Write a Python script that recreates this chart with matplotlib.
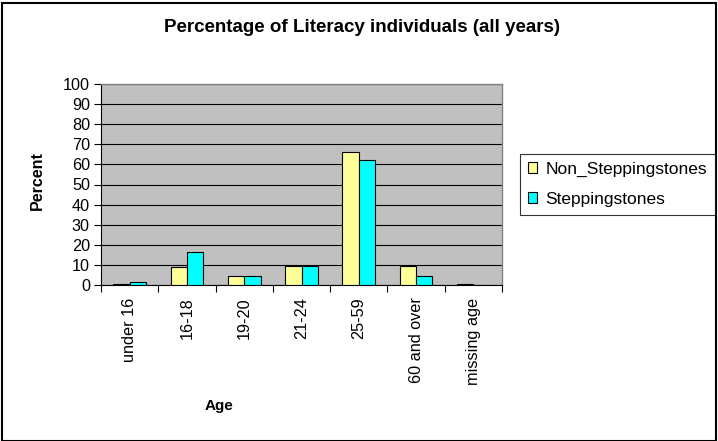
import matplotlib
matplotlib.use("Agg")
import matplotlib.pyplot as plt
import numpy as np
from matplotlib.patches import Rectangle

plt.rcParams["font.family"] = ["Liberation Sans", "DejaVu Sans"]

# Age groups and percentage of literacy individuals per programme
age_groups = ["under 16", "16-18", "19-20", "21-24", "25-59", "60 and over", "missing age"]
non_steppingstones = [0.6, 8.8, 4.6, 9.5, 66.2, 9.4, 0.5]
steppingstones = [1.5, 16.6, 4.6, 9.5, 62.2, 4.6, 0.0]
y_ticks = list(range(0, 101, 10))

W, H = 718, 441
fig = plt.figure(figsize=(W / 100, H / 100), dpi=100)

# plot area in pixel coordinates
left, right, top, bottom = 101, 502, 84, 285
ax = fig.add_axes([left / W, 1 - bottom / H, (right - left) / W, (bottom - top) / H])
ax.set_facecolor("#c0c0c0")

x = np.arange(len(age_groups))
bw = 1 / 3.5
ax.bar(x - bw / 2, non_steppingstones, bw, color="#ffff99", edgecolor="black",
       linewidth=0.8, label="Non_Steppingstones", zorder=3)
ax.bar(x + bw / 2, steppingstones, bw, color="#00ffff", edgecolor="black",
       linewidth=0.8, label="Steppingstones", zorder=3)

ax.set_xlim(-0.5, len(age_groups) - 0.5)
ax.set_ylim(0, 100)
ax.set_yticks(y_ticks)
ax.yaxis.grid(True, color="black", linewidth=0.8, zorder=1)
ax.set_axisbelow(True)

# category labels sit under each group, ticks between groups
ax.set_xticks(x)
ax.set_xticklabels(age_groups, rotation=90, fontsize=11.7)
ax.tick_params(axis="x", length=0, pad=9)
ax.set_xticks(np.arange(len(age_groups) + 1) - 0.5, minor=True)
ax.tick_params(axis="x", which="minor", length=5, direction="out", width=0.8)
ax.tick_params(axis="y", length=5, direction="out", width=0.8, labelsize=11.7, pad=3)

for side in ("top", "right"):
    ax.spines[side].set_color("#808080")
    ax.spines[side].set_linewidth(1.0)
for side in ("left", "bottom"):
    ax.spines[side].set_color("black")
    ax.spines[side].set_linewidth(0.8)

fig.text(362 / W, 1 - 28 / H, "Percentage of Literacy individuals (all years)",
         ha="center", va="center", fontsize=13.5, fontweight="bold")
fig.text(37 / W, 1 - 181 / H, "Percent", rotation=90, ha="center", va="center",
         fontsize=11.5, fontweight="bold")
fig.text(219 / W, 1 - 406 / H, "Age", ha="center", va="center",
         fontsize=11, fontweight="bold")

leg = fig.legend(loc="upper left", bbox_to_anchor=(520 / W, 1 - 154 / H),
                 frameon=True, fancybox=False, fontsize=12.5, handlelength=0.55,
                 handleheight=0.55, handletextpad=0.45, borderpad=0.45,
                 labelspacing=0.85, borderaxespad=0)
leg.get_frame().set_edgecolor("black")
leg.get_frame().set_linewidth(0.8)

# chart border
fig.patches.append(Rectangle((2 / W, 0), (W - 4) / W, 1 - 3 / H, transform=fig.transFigure,
                             fill=False, edgecolor="black", linewidth=1.5))

fig.savefig("out.png", dpi=100)
